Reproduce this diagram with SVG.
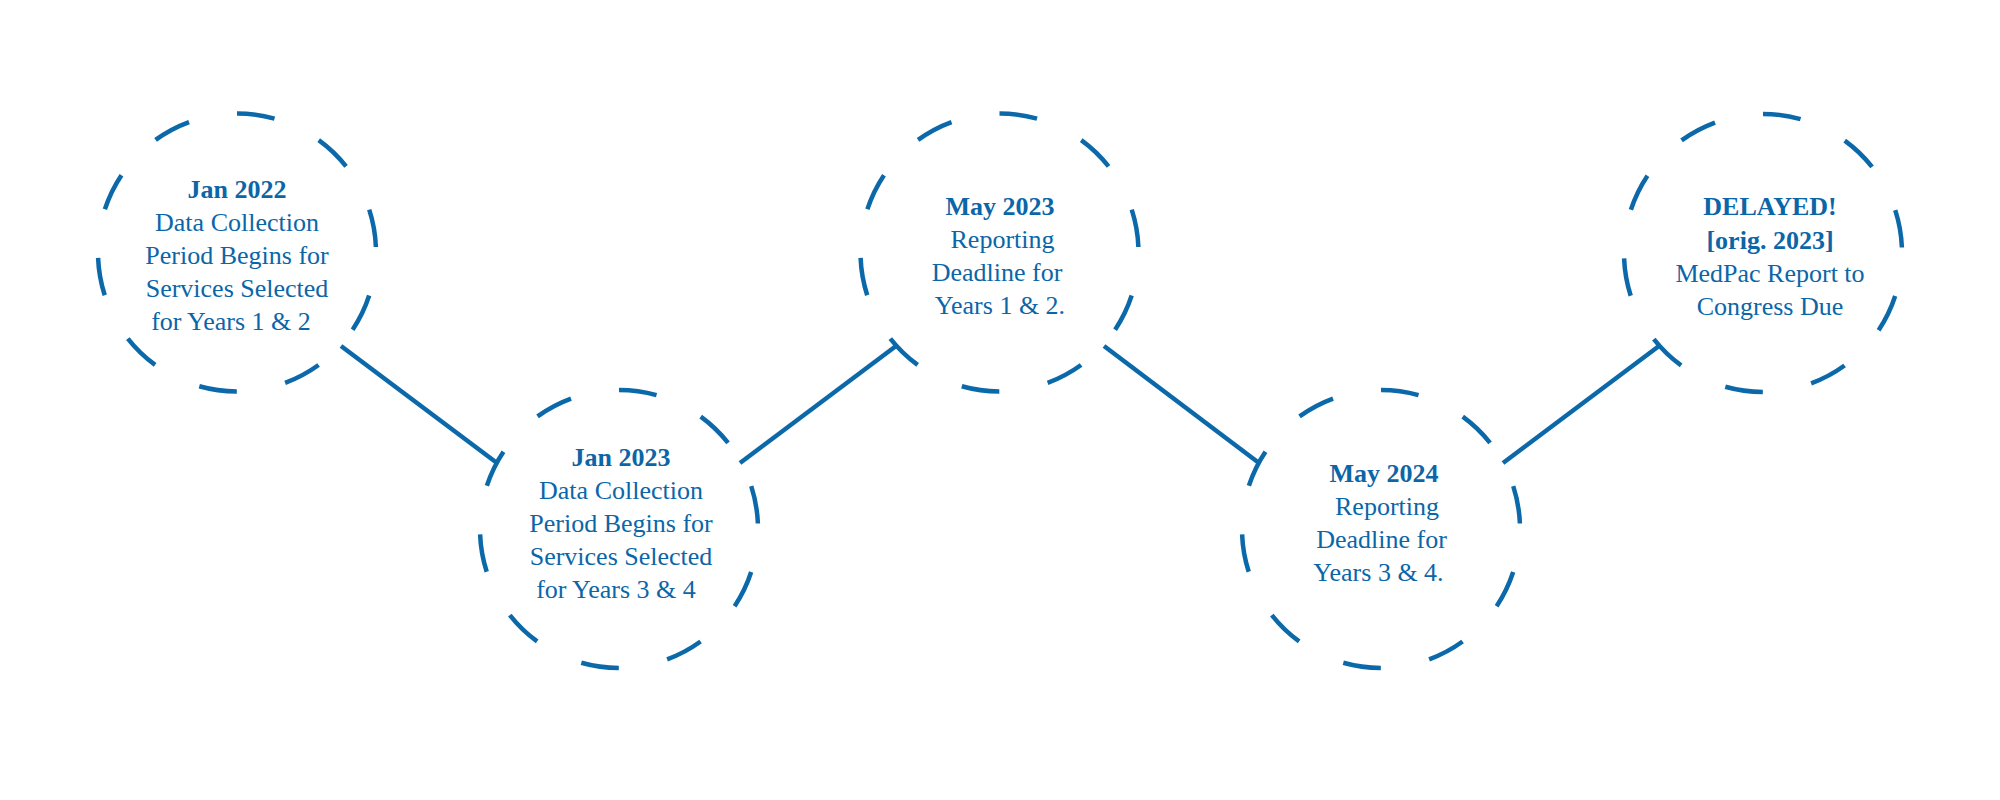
<svg xmlns="http://www.w3.org/2000/svg" width="2000" height="800" viewBox="0 0 2000 800">
<style>
.ring{fill:none;stroke:#0b69aa;stroke-width:4.5;stroke-dasharray:38 49.336}
.conn{stroke:#0b69aa;stroke-width:4.5;stroke-linecap:butt;fill:none}
text{font-family:"Liberation Serif","Times New Roman",serif;font-size:26px;fill:#0b66a8;text-anchor:middle}
.b{font-weight:bold}
</style>
<rect width="2000" height="800" fill="#ffffff"/>
<g id="connectors">
<line class="conn" x1="341" y1="346" x2="497" y2="463"/>
<line class="conn" x1="740" y1="463" x2="896" y2="346"/>
<line class="conn" x1="1104" y1="346" x2="1259" y2="463"/>
<line class="conn" x1="1503" y1="463" x2="1659" y2="346"/>
</g>
<g id="node1">
<circle class="ring" cx="237" cy="252.5" r="139" transform="rotate(-90 237 252.5)"/>
<text class="b" x="237" y="198">Jan 2022</text>
<text x="237" y="231">Data Collection</text>
<text x="237" y="264">Period Begins for</text>
<text x="237" y="297">Services Selected</text>
<text x="231" y="330">for Years 1 &amp; 2</text>
</g>
<g id="node2">
<circle class="ring" cx="619" cy="529" r="139" transform="rotate(-90 619 529)"/>
<text class="b" x="621" y="466">Jan 2023</text>
<text x="621" y="499">Data Collection</text>
<text x="621" y="532">Period Begins for</text>
<text x="621" y="565">Services Selected</text>
<text x="616" y="598">for Years 3 &amp; 4</text>
</g>
<g id="node3">
<circle class="ring" cx="999.5" cy="252.5" r="139" transform="rotate(-90 999.5 252.5)"/>
<text class="b" x="1000" y="215">May 2023</text>
<text x="1002.5" y="248">Reporting</text>
<text x="997" y="281">Deadline for</text>
<text x="1000" y="314">Years 1 &amp; 2.</text>
</g>
<g id="node4">
<circle class="ring" cx="1381" cy="529" r="139" transform="rotate(-90 1381 529)"/>
<text class="b" x="1384" y="482">May 2024</text>
<text x="1387" y="515">Reporting</text>
<text x="1381.5" y="548">Deadline for</text>
<text x="1378.5" y="581">Years 3 &amp; 4.</text>
</g>
<g id="node5">
<circle class="ring" cx="1763" cy="253" r="139" transform="rotate(-90 1763 253)"/>
<text class="b" x="1770" y="215">DELAYED!</text>
<text class="b" x="1770" y="249">[orig. 2023]</text>
<text x="1770" y="282">MedPac Report to</text>
<text x="1770" y="315">Congress Due</text>
</g>
</svg>
